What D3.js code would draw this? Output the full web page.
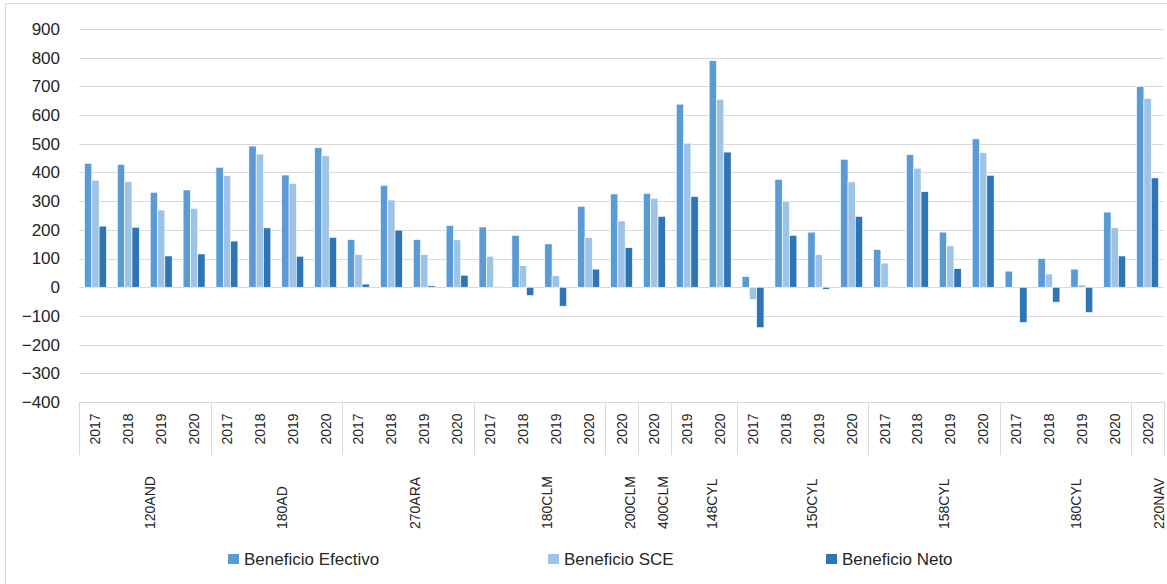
<!DOCTYPE html>
<html><head><meta charset="utf-8">
<script src="https://cdn.jsdelivr.net/npm/d3@7"></script>
<style>body{margin:0;background:#fff}svg{display:block;font-family:"Liberation Sans",Arial,sans-serif}</style>
</head><body><svg id="c" width="1167" height="584"></svg>
<script>
const groups = ["120AND","180AD","270ARA","180CLM","200CLM","400CLM","148CYL","150CYL","158CYL","180CYL","220NAV"];
const groupYears = [
  ["2017","2018","2019","2020"],["2017","2018","2019","2020"],["2017","2018","2019","2020"],["2017","2018","2019","2020"],
  ["2020"],["2020"],["2019","2020"],["2017","2018","2019","2020"],["2017","2018","2019","2020"],["2017","2018","2019","2020"],["2020"]
];
const efectivo = [432,428,331,339, 418,492,391,486, 166,355,166,215, 210,181,151,282, 325, 327, 638,790, 37,376,192,446, 131,462,192,517, 56,100,63,262, 699];
const sce      = [373,368,269,275, 389,464,362,458, 114,304,114,165, 108,75,40,173, 231, 310, 502,655, -43,300,113,367, 84,415,144,469, 0,46,8,207, 658];
const neto     = [213,209,109,116, 161,207,108,174, 11,199,5,42, 2,-29,-66,63, 138, 247, 316,471, -141,181,-7,247, 2,333,65,390, -123,-52,-88,109, 381];
const seriesNames = ["Beneficio Efectivo","Beneficio SCE","Beneficio Neto"];
const colors = ["#5B9BD5","#9DC3E6","#2E75B6"];
const yTicks = [-400,-300,-200,-100,0,100,200,300,400,500,600,700,800,900];

const svg = d3.select("#c");
const L = 79, R = 1164, T = 29, B = 402;

const cats = [];
groups.forEach((g,gi)=>groupYears[gi].forEach(y=>cats.push({g,y,gi})));
cats.forEach((c,i)=>{c.i=i;c.vals=[efectivo[i],sce[i],neto[i]];});

const x = d3.scaleBand().domain(d3.range(cats.length)).range([L,R]).padding(0);
const x1 = d3.scaleBand().domain([0,1,2]).range([0,x.bandwidth()]).paddingInner(0).paddingOuter(0.75);
const y = d3.scaleLinear().domain([-400,900]).range([B,T]);

svg.append("rect").attr("x",5.5).attr("y",3.5).attr("width",1170).attr("height",590)
  .attr("fill","none").attr("stroke","#d9d9d9");

svg.append("g").selectAll("line").data(yTicks).join("line")
  .attr("x1",L).attr("x2",R).attr("y1",d=>Math.round(y(d))+0.5).attr("y2",d=>Math.round(y(d))+0.5)
  .attr("stroke","#d9d9d9").attr("stroke-width",1);

const yAxis = d3.axisLeft(y).tickValues(yTicks).tickSize(0).tickPadding(0);
const ya = svg.append("g").attr("transform",`translate(${L-19},0)`).call(yAxis);
ya.select(".domain").remove();
ya.selectAll("text").attr("font-size",17).attr("fill","#262626").attr("font-family","Liberation Sans, Arial, sans-serif");

const cg = svg.append("g").selectAll("g").data(cats).join("g").attr("transform",d=>`translate(${x(d.i)},0)`);
cg.selectAll("rect").data(d=>d.vals.map((v,k)=>({v,k}))).join("rect")
  .attr("x",d=>x1(d.k)).attr("width",x1.bandwidth())
  .attr("y",d=>y(Math.max(0,d.v))).attr("height",d=>Math.abs(y(d.v)-y(0)))
  .attr("fill",d=>colors[d.k]).attr("stroke","#fff").attr("stroke-width",0.6);

const bounds = [0];
let acc=0; groupYears.forEach(a=>{acc+=a.length;bounds.push(acc);});
svg.append("g").selectAll("line").data(bounds).join("line")
  .attr("x1",d=>Math.round(L + d*x.step())+0.5).attr("x2",d=>Math.round(L + d*x.step())+0.5)
  .attr("y1",B).attr("y2",455).attr("stroke","#d9d9d9");

svg.append("g").selectAll("text").data(cats).join("text")
  .attr("transform",d=>`translate(${x(d.i)+x.bandwidth()/2+5},429) rotate(-90)`)
  .attr("text-anchor","middle").attr("font-size",14).attr("fill","#262626").text(d=>d.y);

svg.append("g").selectAll("text").data(groups).join("text")
  .attr("transform",(d,gi)=>{const cx=L+(bounds[gi]+bounds[gi+1])/2*x.step();return `translate(${cx+10+(cx-L)*0.006},529) rotate(-90)`;})
  .attr("text-anchor","start").attr("font-size",14).attr("fill","#262626").text(d=>d);

const legX = [228,548,826];
const lg = svg.append("g").selectAll("g").data(seriesNames).join("g").attr("transform",(d,i)=>`translate(${legX[i]},554)`);
lg.append("rect").attr("width",11).attr("height",10).attr("fill",(d,i)=>colors[i]);
lg.append("text").attr("x",16).attr("y",11).attr("font-size",17).attr("fill","#262626").text(d=>d);
</script></body></html>
